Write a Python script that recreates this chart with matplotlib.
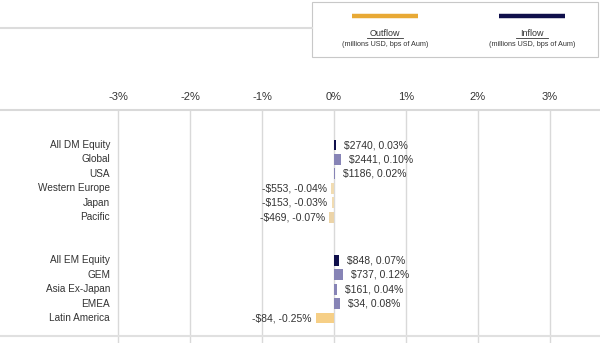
import matplotlib.pyplot as plt
from matplotlib.lines import Line2D
from matplotlib.patches import Rectangle

plt.rcParams["font.family"] = ["Liberation Sans", "DejaVu Sans"]

# ── Data ──────────────────────────────────────────────────────────────────────
categories = ["All DM Equity", "Global", "USA", "Western Europe", "Japan", "Pacific",
              "All EM Equity", "GEM", "Asia Ex-Japan", "EMEA", "Latin America"]
rows = [0, 1, 2, 3, 4, 5, 8, 9, 10, 11, 12]          # two blank rows between groups
flows_musd = [2740, 2441, 1186, -553, -153, -469, 848, 737, 161, 34, -84]
bps_pct = [0.03, 0.10, 0.02, -0.04, -0.03, -0.07, 0.07, 0.12, 0.04, 0.08, -0.25]
bar_colors = ["#0f0f4b", "#8784b6", "#8784b6", "#f1dcb2", "#f1dcb2", "#ecd4a8",
              "#0f0f4b", "#8784b6", "#8784b6", "#8784b6", "#f6cf86"]
xticks = [-3, -2, -1, 0, 1, 2, 3]

W, H = 600, 343
fig = plt.figure(figsize=(W / 100, H / 100), dpi=100)

# ── Bar axes (pixel layout: top line at y=110, rows from y=145 step 14.42) ───
px0, ppu = 334, 72.0          # 0% position, pixels per 1%
row0, rstep = 145, 14.42
ax = fig.add_axes([0, 0, 1, (H - 110) / H])
ax.set_xlim((0 - px0) / ppu, (W - px0) / ppu)
ax.set_ylim((H - row0) / rstep, (110 - row0) / rstep)

for x in xticks:
    ax.axvline(x, color="#d9d9d9", lw=1, zorder=0)
ax.axhline((336 - row0) / rstep, color="#e0e0e0", lw=1.5, zorder=0)

ax.barh(rows, bps_pct, height=0.75, color=bar_colors, zorder=3)

for r, cat, v, m in zip(rows, categories, bps_pct, flows_musd):
    ax.text((110 - px0) / ppu, r, cat, ha="right", va="center",
            fontsize=7.2, color="#333333")
    lab = f"${m}, {v:.2f}%" if m >= 0 else f"-${-m}, {v:.2f}%"
    if v >= 0:
        ax.text(v + 0.11, r, lab, ha="left", va="center", fontsize=7.5, color="#333333")
    else:
        ax.text(v - 0.06, r, lab, ha="right", va="center", fontsize=7.5, color="#333333")

ax.xaxis.tick_top()
ax.set_xticks(xticks)
ax.set_xticklabels([f"{x}%" for x in xticks], fontsize=8, color="#333333")
ax.tick_params(axis="x", length=0, pad=6)
ax.set_yticks([])
for s in ["left", "right", "bottom"]:
    ax.spines[s].set_visible(False)
ax.spines["top"].set_color("#d9d9d9")
ax.spines["top"].set_linewidth(1.5)

# ── Legend box (drawn in figure pixel coords) ─────────────────────────────────
ov = fig.add_axes([0, 0, 1, 1], facecolor="none")
ov.set_xlim(0, W)
ov.set_ylim(H, 0)
ov.axis("off")
ov.add_line(Line2D([0, 312], [28, 28], color="#dcdcdc", lw=1.5))
ov.add_patch(Rectangle((312, 2), 286, 55, fill=True, facecolor="white",
                       edgecolor="#c8c8c8", lw=0.8))
for cx, col, name in [(385, "#e8a935", "Outflow"), (532, "#0f0f4b", "Inflow")]:
    ov.add_line(Line2D([cx - 33, cx + 33], [16, 16], color=col, lw=3.2,
                       solid_capstyle="butt"))
    ov.text(cx, 33, name, ha="center", va="center", fontsize=6.5, color="#333333")
    half = len(name) * 2.6
    ov.add_line(Line2D([cx - half, cx + half], [37.5, 37.5], color="#333333", lw=0.6))
    ov.text(cx, 44, "(millions USD, bps of Aum)", ha="center", va="center",
            fontsize=5.2, color="#333333")

fig.savefig("out.png", dpi=100)
